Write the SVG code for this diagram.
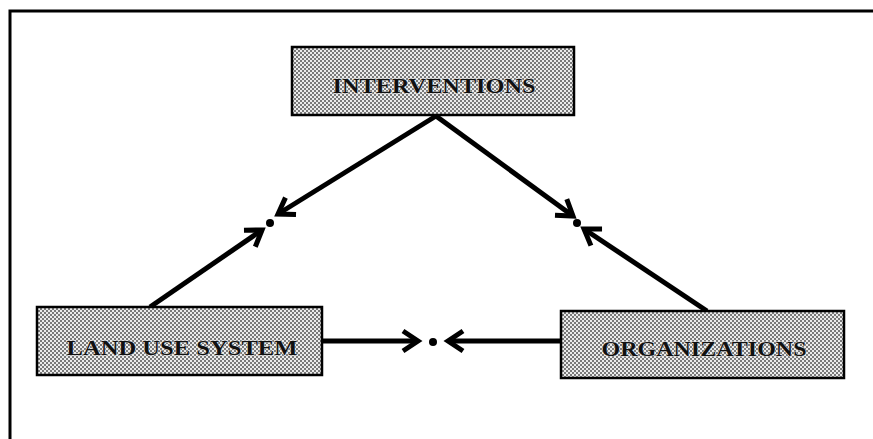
<svg xmlns="http://www.w3.org/2000/svg" width="873" height="439" viewBox="0 0 873 439">
  <style>
    .box { fill: url(#halftone); stroke: #000; stroke-width: 2.5; }
    .label { font-family: "Liberation Serif", "Times New Roman", serif; font-weight: bold; font-size: 21px; fill: #111; stroke: #ddd; stroke-width: 0.8; paint-order: stroke; text-anchor: middle; }
    .edge { stroke: #000; stroke-width: 5; fill: none; marker-end: url(#vhead); }
    .frame { stroke: #000; stroke-width: 3; fill: none; }
  </style>
  <defs>
    <pattern id="halftone" width="4" height="4" patternUnits="userSpaceOnUse">
      <rect width="4" height="4" fill="#ececec"/>
      <rect x="0" y="0" width="2" height="2" fill="#7a7a7a"/>
      <rect x="2" y="2" width="2" height="2" fill="#7a7a7a"/>
    </pattern>
    <marker id="vhead" markerUnits="userSpaceOnUse" markerWidth="40" markerHeight="40" viewBox="-25 -20 40 40" refX="0" refY="0" orient="auto">
      <path d="M-15,-10 L0,0 L-15,10" fill="none" stroke="#000" stroke-width="5" stroke-linejoin="miter"/>
    </marker>
  </defs>

  <!-- page frame: top and left rules -->
  <path class="frame" d="M10,439 L10,11 L873,11"/>

  <!-- connectors -->
  <g id="connectors">
    <path class="edge" d="M436,116 L278,214"/>
    <path class="edge" d="M436,116 L573,216"/>
    <path class="edge" d="M150,307 L262,230"/>
    <path class="edge" d="M707,311 L584,229"/>
    <path class="edge" d="M322,341 L418,341"/>
    <path class="edge" d="M561,341 L448,341"/>
    <circle cx="270" cy="223" r="4" fill="#000"/>
    <circle cx="577" cy="223" r="4" fill="#000"/>
    <circle cx="433" cy="342" r="4" fill="#000"/>
  </g>

  <!-- nodes -->
  <g id="interventions">
    <rect class="box" x="292" y="47" width="282" height="68"/>
    <text class="label" x="434" y="93" textLength="203" lengthAdjust="spacingAndGlyphs">INTERVENTIONS</text>
  </g>
  <g id="land-use-system">
    <rect class="box" x="37" y="307" width="285" height="68"/>
    <text class="label" x="182" y="355" textLength="231" lengthAdjust="spacingAndGlyphs">LAND USE SYSTEM</text>
  </g>
  <g id="organizations">
    <rect class="box" x="561" y="311" width="283" height="67"/>
    <text class="label" x="704" y="356" textLength="205" lengthAdjust="spacingAndGlyphs">ORGANIZATIONS</text>
  </g>
</svg>
